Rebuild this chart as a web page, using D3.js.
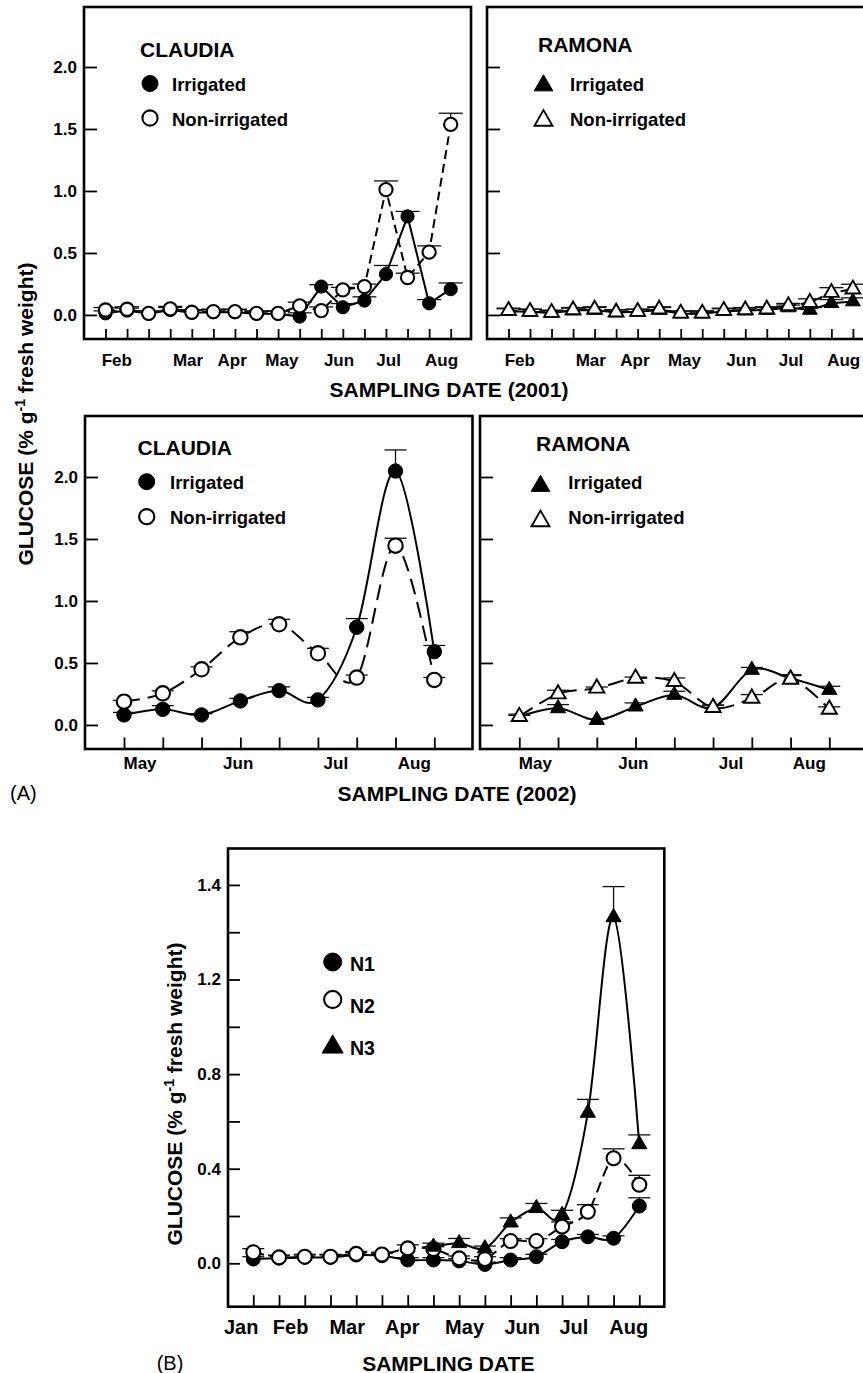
<!DOCTYPE html>
<html>
<head>
<meta charset="utf-8">
<script src="https://cdn.jsdelivr.net/npm/d3@7"></script>
<style>
  body { margin: 0; background: #fff; }
  svg { display: block; font-family: "Liberation Sans", Arial, Helvetica, sans-serif; }
</style>
</head>
<body>
<script>
// ---- data: (A) 2001 sampling, 17 dates ----
const months2001 = ["Feb", "Mar", "Apr", "May", "Jun", "Jul", "Aug"];
const monthPos2001 = [0.5, 3.8, 5.85, 8.15, 10.8, 13.1, 15.55];

const claudia01Irr = [0.013, 0.035, 0.01, 0.04, 0.018, 0.022, 0.022, 0.01, 0.01, -0.013, 0.229, 0.062, 0.116, 0.329, 0.795, 0.094, 0.208];
const claudia01IrrErr = [0.02, 0.02, 0.02, 0.02, 0.02, 0.02, 0.02, 0.02, 0.02, 0.03, 0.015, 0.03, 0.03, 0.07, 0.04, 0.03, 0.05];
const claudia01Non = [0.04, 0.046, 0.013, 0.049, 0.022, 0.027, 0.027, 0.013, 0.013, 0.073, 0.035, 0.202, 0.229, 1.011, 0.302, 0.507, 1.537];
const claudia01NonErr = [0.02, 0.02, 0.02, 0.02, 0.02, 0.02, 0.02, 0.02, 0.02, 0.03, 0.03, 0.02, 0.02, 0.07, 0.035, 0.05, 0.09];

const ramona01Irr = [0.03, 0.025, 0.015, 0.035, 0.04, 0.02, 0.025, 0.04, 0.01, 0.01, 0.03, 0.035, 0.04, 0.06, 0.04, 0.094, 0.108];
const ramona01IrrErr = [0.02, 0.02, 0.02, 0.02, 0.02, 0.02, 0.02, 0.02, 0.02, 0.02, 0.02, 0.02, 0.02, 0.02, 0.02, 0.03, 0.03];
const ramona01Non = [0.035, 0.027, 0.019, 0.04, 0.046, 0.022, 0.027, 0.046, 0.013, 0.013, 0.035, 0.04, 0.046, 0.073, 0.1, 0.18, 0.208];
const ramona01NonErr = [0.02, 0.02, 0.02, 0.02, 0.02, 0.02, 0.02, 0.02, 0.02, 0.02, 0.02, 0.02, 0.02, 0.02, 0.03, 0.04, 0.04];

// ---- data: (A) 2002 sampling, 9 dates ----
const months2002 = ["May", "Jun", "Jul", "Aug"];
const monthPos2002 = [0.4, 2.93, 5.45, 7.47];

const claudia02Irr = [0.081, 0.126, 0.081, 0.194, 0.277, 0.202, 0.788, 2.048, 0.591];
const claudia02IrrErr = [0.02, 0.03, 0.01, 0.02, 0.03, 0.02, 0.07, 0.17, 0.05];
const claudia02Non = [0.188, 0.255, 0.449, 0.707, 0.812, 0.578, 0.382, 1.446, 0.363];
const claudia02NonErr = [0.01, 0.02, 0.02, 0.045, 0.04, 0.04, 0.02, 0.06, 0.02];

const ramona02Irr = [0.067, 0.134, 0.04, 0.148, 0.242, 0.14, 0.444, 0.376, 0.282];
const ramona02IrrErr = [0.02, 0.03, 0.01, 0.03, 0.03, 0.02, 0.02, 0.03, 0.03];
const ramona02Non = [0.067, 0.25, 0.296, 0.376, 0.349, 0.14, 0.215, 0.368, 0.126];
const ramona02NonErr = [0.01, 0.03, 0.01, 0.01, 0.03, 0.02, 0.03, 0.03, 0.02];

const yTicksA = [0, 0.5, 1.0, 1.5, 2.0];

// ---- data: (B) 16 dates ----
const monthsB = ["Jan", "Feb", "Mar", "Apr", "May", "Jun", "Jul", "Aug"];
const monthPosB = [-0.49, 1.43, 3.63, 5.77, 8.19, 10.43, 12.44, 14.57];

const n1 = [0.018, 0.022, 0.025, 0.025, 0.035, 0.032, 0.014, 0.014, 0.01, -0.005, 0.014, 0.028, 0.091, 0.112, 0.106, 0.242];
const n1Err = [0.01, 0.01, 0.01, 0.01, 0.01, 0.01, 0.01, 0.01, 0.01, 0.01, 0.01, 0.01, 0.01, 0.01, 0.01, 0.035];
const n2 = [0.047, 0.025, 0.028, 0.028, 0.04, 0.037, 0.063, 0.06, 0.021, 0.018, 0.094, 0.094, 0.155, 0.218, 0.444, 0.332];
const n2Err = [0.015, 0.01, 0.01, 0.01, 0.01, 0.01, 0.015, 0.01, 0.01, 0.01, 0.01, 0.01, 0.02, 0.03, 0.04, 0.04];
const n3 = [null, null, null, null, null, null, null, 0.07, 0.085, 0.063, 0.172, 0.233, 0.204, 0.636, 1.463, 0.503];
const n3Err = [0, 0, 0, 0, 0, 0, 0, 0.015, 0.02, 0.01, 0.02, 0.02, 0.02, 0.057, 0.13, 0.04];

const yTicksB = [0, 0.2, 0.4, 0.6, 0.8, 1.0, 1.2, 1.4, 1.6];
const yTickLabelsB = ["0.0", "", "0.4", "", "0.8", "", "1.2", "", "1.4"];

// ---------------------------------------------------------------
const svg = d3.select("body").append("svg")
    .attr("width", 863)
    .attr("height", 1373);

const BOLD = "bold";
const smooth = d3.curveCardinal.tension(0);

const drawMarker = (g, cx, cy, shape, filled, size) => {
    if (shape === "circle") {
        g.append("circle")
            .attr("cx", cx).attr("cy", cy).attr("r", size)
            .attr("fill", filled ? "#000" : "#fff")
            .attr("stroke", "#000")
            .attr("stroke-width", filled ? 1 : 2.1);
    } else {
        g.append("path")
            .attr("transform", `translate(${cx},${cy})`)
            .attr("d", d3.symbol(d3.symbolTriangle, size)())
            .attr("fill", filled ? "#000" : "#fff")
            .attr("stroke", "#000")
            .attr("stroke-width", filled ? 1 : 1.9)
            .attr("stroke-linejoin", "miter");
    }
}

const drawPanel = (opt) => {
    const g = svg.append("g");
    const n = opt.series[0].values.length;

    const x = d3.scaleLinear()
        .domain([0, n - 1])
        .range([opt.tx0, opt.tx1]);

    const y = d3.scaleLinear()
        .domain(opt.yDomain)
        .range([opt.bottom, opt.top]);

    // y ticks (inside)
    const ya = g.append("g")
        .attr("transform", `translate(${opt.left},0)`)
        .call(d3.axisLeft(y)
            .tickValues(opt.yTicks)
            .tickSize(-opt.yTickLen)
            .tickPadding(7)
            .tickFormat(opt.yFormat));
    ya.select(".domain").remove();
    ya.selectAll("line").attr("stroke-width", 1.8);
    ya.selectAll("text")
        .attr("font-family", null)
        .attr("font-size", opt.tickFont)
        .attr("font-weight", BOLD)
        .attr("fill", "#000");
    ya.attr("font-family", null).attr("font-size", null);

    // x ticks (inside, pointing up)
    const xa = g.append("g")
        .attr("transform", `translate(0,${opt.bottom})`)
        .call(d3.axisBottom(x)
            .tickValues(d3.range(n))
            .tickSize(-opt.xTickLen)
            .tickFormat(""));
    xa.select(".domain").remove();
    xa.selectAll("line").attr("stroke-width", 1.8);

    // month labels
    const ml = g.append("g")
        .attr("transform", `translate(0,${opt.bottom})`)
        .call(d3.axisBottom(x)
            .tickValues(opt.monthPos)
            .tickSize(0)
            .tickPadding(opt.labelPad)
            .tickFormat((d, i) => opt.months[i]));
    ml.select(".domain").remove();
    ml.selectAll("line").remove();
    ml.attr("font-family", null).attr("font-size", null);
    ml.selectAll("text")
        .attr("font-size", opt.monthFont)
        .attr("font-weight", BOLD)
        .attr("fill", "#000");

    // lines
    const lineLayer = g.append("g");
    opt.series.forEach(s => {
        const pts = s.values.map((v, i) => ({ i, v }));
        lineLayer.append("path")
            .datum(pts)
            .attr("d", d3.line()
                .defined(d => d.v !== null)
                .x(d => x(d.i))
                .y(d => y(d.v))
                .curve(opt.curve))
            .attr("fill", "none")
            .attr("stroke", "#000")
            .attr("stroke-width", 2)
            .attr("stroke-dasharray", s.dashed ? opt.dash : null);
    });

    // error bars
    const errLayer = g.append("g")
        .attr("stroke", "#111")
        .attr("stroke-width", 1.3);
    opt.series.forEach(s => {
        s.values.forEach((v, i) => {
            if (v === null) return;
            const yt = y(v + s.errors[i]);
            errLayer.append("line")
                .attr("x1", x(i)).attr("x2", x(i))
                .attr("y1", y(v)).attr("y2", yt);
            errLayer.append("line")
                .attr("x1", x(i) - opt.cap).attr("x2", x(i) + opt.cap)
                .attr("y1", yt).attr("y2", yt);
        });
    });

    // markers
    const mk = g.append("g");
    opt.series.forEach(s => {
        s.values.forEach((v, i) => {
            if (v === null) return;
            drawMarker(mk, x(i), y(v), s.shape, s.filled,
                s.shape === "circle" ? opt.radius : opt.triSize);
        });
    });

    // frame
    g.append("rect")
        .attr("x", opt.left)
        .attr("y", opt.top)
        .attr("width", opt.right - opt.left)
        .attr("height", opt.bottom - opt.top)
        .attr("fill", "none")
        .attr("stroke", "#000")
        .attr("stroke-width", 2.6);

    // legend
    if (opt.title) {
        g.append("text")
            .attr("x", opt.title.x).attr("y", opt.title.y)
            .attr("font-size", 21).attr("font-weight", BOLD)
            .text(opt.title.text);
    }
    opt.legend.forEach(l => {
        drawMarker(g, l.mx, l.my, l.shape, l.filled, l.size);
        g.append("text")
            .attr("x", l.tx).attr("y", l.ty)
            .attr("font-size", l.font).attr("font-weight", BOLD)
            .text(l.text);
    });
}

const yDomA1 = [-0.194, 2.484];
const fmtA = d3.format(".1f");

// (A) 2001 CLAUDIA
drawPanel({
    left: 84, right: 471, top: 7, bottom: 339,
    tx0: 105.5, tx1: 450.7, yDomain: yDomA1,
    yTicks: yTicksA, yFormat: fmtA, yTickLen: 13, xTickLen: 10,
    tickFont: 17, monthFont: 17, labelPad: 15,
    months: months2001, monthPos: monthPos2001,
    curve: d3.curveLinear, dash: "9,5", cap: 12, radius: 6.6, triSize: 95,
    series: [
        { values: claudia01Irr, errors: claudia01IrrErr, shape: "circle", filled: true, dashed: false },
        { values: claudia01Non, errors: claudia01NonErr, shape: "circle", filled: false, dashed: true }
    ],
    title: { text: "CLAUDIA", x: 140, y: 56.5 },
    legend: [
        { shape: "circle", filled: true, size: 8, mx: 150, my: 83.5, tx: 172, ty: 90.5, font: 18.5, text: "Irrigated" },
        { shape: "circle", filled: false, size: 7.6, mx: 150, my: 118, tx: 172, ty: 125.5, font: 18.5, text: "Non-irrigated" }
    ]
});

// (A) 2001 RAMONA
drawPanel({
    left: 487, right: 874, top: 7, bottom: 339,
    tx0: 508.5, tx1: 852.9, yDomain: yDomA1,
    yTicks: yTicksA, yFormat: "", yTickLen: 13, xTickLen: 10,
    tickFont: 17, monthFont: 17, labelPad: 15,
    months: months2001, monthPos: monthPos2001,
    curve: d3.curveLinear, dash: "9,5", cap: 12, radius: 6.6, triSize: 95,
    series: [
        { values: ramona01Irr, errors: ramona01IrrErr, shape: "triangle", filled: true, dashed: false },
        { values: ramona01Non, errors: ramona01NonErr, shape: "triangle", filled: false, dashed: true }
    ],
    title: { text: "RAMONA", x: 538, y: 51.5 },
    legend: [
        { shape: "triangle", filled: true, size: 150, mx: 543.5, my: 85.5, tx: 570, ty: 90.5, font: 18.5, text: "Irrigated" },
        { shape: "triangle", filled: false, size: 140, mx: 543.5, my: 120.5, tx: 570, ty: 125.5, font: 18.5, text: "Non-irrigated" }
    ]
});

const yDomA2 = [-0.194, 2.492];

// (A) 2002 CLAUDIA
drawPanel({
    left: 85, right: 472.5, top: 416, bottom: 749,
    tx0: 124, tx1: 434.3, yDomain: yDomA2,
    yTicks: yTicksA, yFormat: fmtA, yTickLen: 13, xTickLen: 11.5,
    tickFont: 17, monthFont: 17, labelPad: 8,
    months: months2002, monthPos: monthPos2002,
    curve: smooth, dash: "16,8", cap: 11, radius: 7.2, triSize: 100,
    series: [
        { values: claudia02Irr, errors: claudia02IrrErr, shape: "circle", filled: true, dashed: false },
        { values: claudia02Non, errors: claudia02NonErr, shape: "circle", filled: false, dashed: true }
    ],
    title: { text: "CLAUDIA", x: 137.5, y: 455 },
    legend: [
        { shape: "circle", filled: true, size: 8, mx: 146.7, my: 481.7, tx: 170, ty: 489.3, font: 18.5, text: "Irrigated" },
        { shape: "circle", filled: false, size: 7.6, mx: 146.7, my: 516.7, tx: 170, ty: 524, font: 18.5, text: "Non-irrigated" }
    ]
});

// (A) 2002 RAMONA
drawPanel({
    left: 480, right: 874, top: 416, bottom: 749,
    tx0: 519.3, tx1: 829.3, yDomain: yDomA2,
    yTicks: yTicksA, yFormat: "", yTickLen: 13, xTickLen: 11.5,
    tickFont: 17, monthFont: 17, labelPad: 8,
    months: months2002, monthPos: monthPos2002,
    curve: smooth, dash: "16,8", cap: 11, radius: 7.2, triSize: 100,
    series: [
        { values: ramona02Irr, errors: ramona02IrrErr, shape: "triangle", filled: true, dashed: false },
        { values: ramona02Non, errors: ramona02NonErr, shape: "triangle", filled: false, dashed: true }
    ],
    title: { text: "RAMONA", x: 536, y: 450.7 },
    legend: [
        { shape: "triangle", filled: true, size: 150, mx: 540.5, my: 486, tx: 568.3, ty: 489.3, font: 18.5, text: "Irrigated" },
        { shape: "triangle", filled: false, size: 140, mx: 540.5, my: 521, tx: 568.3, ty: 524, font: 18.5, text: "Non-irrigated" }
    ]
});

// (B)
drawPanel({
    left: 228, right: 664.3, top: 848.5, bottom: 1306.7,
    tx0: 253.3, tx1: 639.3, yDomain: [-0.1835, 1.754],
    yTicks: yTicksB, yFormat: (d, i) => yTickLabelsB[i], yTickLen: 12, xTickLen: 11.5,
    tickFont: 17, monthFont: 20, labelPad: 13,
    months: monthsB, monthPos: monthPosB,
    curve: smooth, dash: "11,6", cap: 11, radius: 7, triSize: 100,
    series: [
        { values: n1, errors: n1Err, shape: "circle", filled: true, dashed: false },
        { values: n2, errors: n2Err, shape: "circle", filled: false, dashed: true },
        { values: n3, errors: n3Err, shape: "triangle", filled: true, dashed: false }
    ],
    title: null,
    legend: [
        { shape: "circle", filled: true, size: 9, mx: 332.7, my: 962, tx: 350, ty: 970.7, font: 19.5, text: "N1" },
        { shape: "circle", filled: false, size: 8.6, mx: 332.7, my: 999.5, tx: 350, ty: 1012.8, font: 19.5, text: "N2" },
        { shape: "triangle", filled: true, size: 190, mx: 332.7, my: 1047, tx: 350, ty: 1054.9, font: 19.5, text: "N3" }
    ]
});

// axis titles and panel letters
const yTitle = (cx, cy) => {
    const t = svg.append("text")
        .attr("transform", `translate(${cx},${cy}) rotate(-90)`)
        .attr("text-anchor", "middle")
        .attr("font-size", 21)
        .attr("font-weight", BOLD);
    t.append("tspan").text("GLUCOSE (% g");
    t.append("tspan").attr("dy", -8).attr("font-size", 14).text("-1");
    t.append("tspan").attr("dy", 8).text(" fresh weight)");
}
yTitle(33.3, 414);
yTitle(181.7, 1094);

svg.append("text")
    .attr("x", 449).attr("y", 397)
    .attr("text-anchor", "middle")
    .attr("font-size", 21).attr("font-weight", BOLD)
    .text("SAMPLING DATE (2001)");

svg.append("text")
    .attr("x", 457).attr("y", 801)
    .attr("text-anchor", "middle")
    .attr("font-size", 21).attr("font-weight", BOLD)
    .text("SAMPLING DATE (2002)");

svg.append("text")
    .attr("x", 448.3).attr("y", 1370.5)
    .attr("text-anchor", "middle")
    .attr("font-size", 21).attr("font-weight", BOLD)
    .text("SAMPLING DATE");

svg.append("text")
    .attr("x", 10).attr("y", 800)
    .attr("font-size", 20)
    .text("(A)");

svg.append("text")
    .attr("x", 156.7).attr("y", 1370)
    .attr("font-size", 20)
    .text("(B)");
</script>
</body>
</html>
